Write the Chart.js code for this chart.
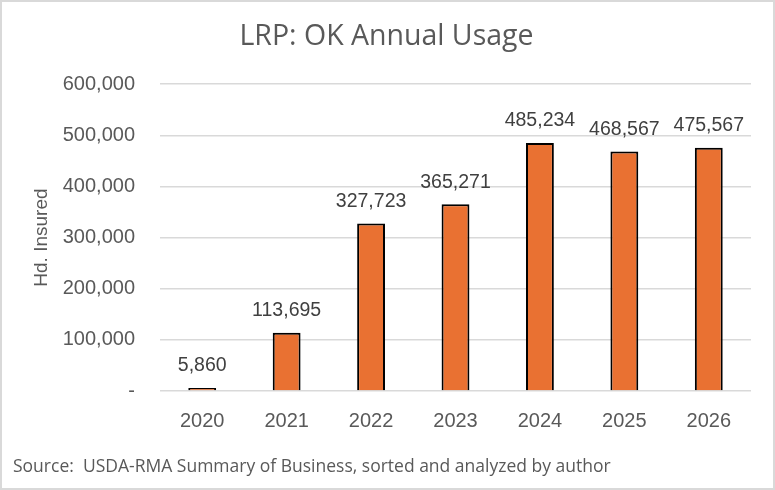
<!DOCTYPE html>
<html>
<head>
<meta charset="utf-8">
<script src="https://cdn.jsdelivr.net/npm/chart.js@4"></script>
<style>
  html, body { margin: 0; padding: 0; background: #fff; }
  #wrap { width: 775px; height: 490px; position: relative; }
</style>
</head>
<body>
<div id="wrap"><canvas id="usageChart"></canvas></div>
<script>
// Chart data
const years = ['2020', '2021', '2022', '2023', '2024', '2025', '2026'];
const headInsured = [5860, 113695, 327723, 365271, 485234, 468567, 475567];
const yTicks = [0, 100000, 200000, 300000, 400000, 500000, 600000];
const sourceNote = 'Source:  USDA-RMA Summary of Business, sorted and analyzed by author';

const numFmt = new Intl.NumberFormat('en-US');

// Draws the value above each bar
const barLabels = {
    id: 'barLabels',
    afterDatasetsDraw(chart) {
        const ctx = chart.ctx;
        const meta = chart.getDatasetMeta(0);
        ctx.save();
        ctx.font = '19.5px "Liberation Sans", Arial, sans-serif';
        ctx.fillStyle = '#404040';
        ctx.textAlign = 'center';
        ctx.textBaseline = 'middle';
        meta.data.forEach((bar, i) => {
            ctx.fillText(numFmt.format(headInsured[i]), bar.x, bar.y - 22);
        });
        ctx.restore();
    }
};

// Light gray frame round the whole chart, plus the source note
const frame = {
    id: 'frame',
    beforeDraw(chart) {
        const ctx = chart.ctx;
        ctx.save();
        ctx.fillStyle = '#fff';
        ctx.fillRect(0, 0, chart.width, chart.height);
        ctx.strokeStyle = '#d9d9d9';
        ctx.lineWidth = 2;
        ctx.strokeRect(1, 1, chart.width - 2, chart.height - 2);
        ctx.restore();
    },
    afterDraw(chart) {
        const ctx = chart.ctx;
        ctx.save();
        ctx.font = '17.5px "Open Sans", sans-serif';
        ctx.fillStyle = '#595959';
        ctx.textAlign = 'left';
        ctx.textBaseline = 'middle';
        ctx.fillText(sourceNote, 13, 467);
        ctx.restore();
    }
};

new Chart(document.getElementById('usageChart'), {
    type: 'bar',
    data: {
        labels: years,
        datasets: [{
            label: 'Hd. Insured',
            data: headInsured,
            backgroundColor: '#E97132',
            borderColor: '#000',
            borderWidth: 2,
            barPercentage: 0.33,
            categoryPercentage: 1
        }]
    },
    options: {
        responsive: true,
        maintainAspectRatio: false,
        animation: false,
        layout: { padding: { left: 22, right: 24, top: 20, bottom: 33 } },
        plugins: {
            legend: { display: false },
            tooltip: { enabled: false },
            title: {
                display: true,
                text: 'LRP: OK Annual Usage',
                color: '#595959',
                font: { family: '"Open Sans", sans-serif', size: 28.5, weight: 'normal' },
                padding: { top: 0, bottom: 30 }
            }
        },
        scales: {
            x: {
                grid: { display: false },
                border: { display: false },
                ticks: {
                    color: '#595959',
                    font: { family: '"Liberation Sans", Arial, sans-serif', size: 20 },
                    padding: 10
                },
                afterFit(scale) { scale.height = 66; }
            },
            y: {
                min: 0,
                max: 600000,
                afterBuildTicks(scale) {
                    scale.ticks = yTicks.map(v => ({ value: v }));
                },
                grid: { color: '#d9d9d9', lineWidth: 1.5, drawTicks: false },
                border: { display: false },
                ticks: {
                    color: '#595959',
                    font: { family: '"Liberation Sans", Arial, sans-serif', size: 20 },
                    padding: 25,
                    callback: v => v === 0 ? '-' : numFmt.format(v)
                },
                title: {
                    display: true,
                    text: 'Hd. Insured',
                    color: '#595959',
                    font: { family: '"Liberation Sans", Arial, sans-serif', size: 19 },
                    padding: { top: 8, bottom: 0 }
                },
                afterFit(scale) { scale.width = 138; }
            }
        }
    },
    plugins: [frame, barLabels]
});
</script>
</body>
</html>
